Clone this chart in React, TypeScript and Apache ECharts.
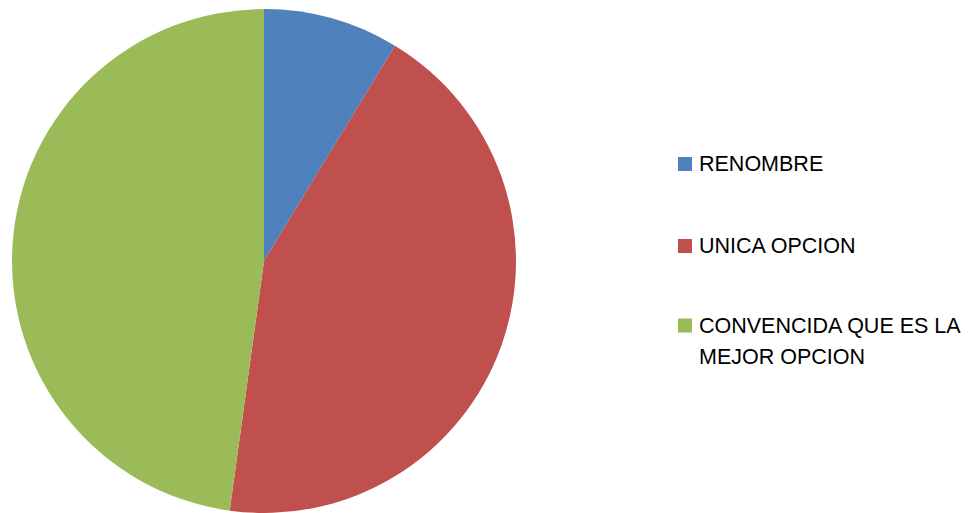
import React, { useEffect, useRef } from "react";
import * as echarts from "echarts";

const categories = ["RENOMBRE", "UNICA OPCION", "CONVENCIDA QUE ES LA\nMEJOR OPCION"];
const values = [4, 20, 22];
const colors = ["#4F81BD", "#C0504D", "#9BBB59"];

export default function App() {
  const ref = useRef<HTMLDivElement>(null);
  useEffect(() => {
    document.body.style.margin = "0";
    const chart = echarts.init(ref.current!, undefined, { renderer: "svg" });
    const legendRowCenters = [164, 246, 325.5];
    const graphics: any[] = [];
    categories.forEach((c, i) => {
      const cy = legendRowCenters[i];
      graphics.push({
        type: "rect",
        shape: { x: 678, y: cy - 7, width: 14, height: 14 },
        style: { fill: colors[i] },
        silent: true,
      });
      graphics.push({
        type: "text",
        x: 699,
        y: cy - 15.5,
        style: {
          text: c,
          fill: "#000",
          font: "21.5px 'Liberation Sans', Arial, sans-serif",
          fontSize: 21.5,
          fontFamily: "'Liberation Sans', Arial, sans-serif",
          lineHeight: 31,
          textVerticalAlign: "top",
          verticalAlign: "top",
        },
        silent: true,
      });
    });
    chart.setOption({
      animation: false,
      backgroundColor: "#ffffff",
      series: [
        {
          type: "pie",
          center: [264, 261],
          radius: [0, 252],
          startAngle: 90,
          clockwise: true,
          label: { show: false },
          labelLine: { show: false },
          silent: true,
          itemStyle: { borderWidth: 0 },
          data: categories.map((c, i) => ({
            name: c,
            value: values[i],
            itemStyle: { color: colors[i] },
          })),
        },
      ],
      graphic: graphics,
    });
    return () => chart.dispose();
  }, []);
  return <div ref={ref} style={{ width: 969, height: 513 }} />;
}
